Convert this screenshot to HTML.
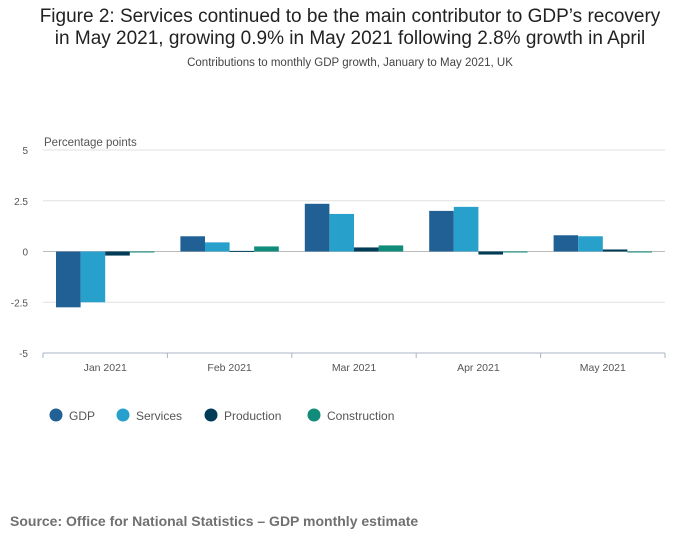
<!DOCTYPE html>
<html><head><meta charset="utf-8">
<style>
body{margin:0;background:#fff;font-family:"Liberation Sans",sans-serif;}
#wrap{position:relative;width:700px;height:549px;overflow:hidden;}
h1{position:absolute;top:6px;left:0;width:700px;margin:0;text-align:center;font-weight:normal;font-size:19px;line-height:22px;color:#222;}
.sub{position:absolute;top:57px;width:700px;text-align:center;font-size:11.5px;color:#444;}
.src{position:absolute;top:513px;left:10px;font-size:14px;font-weight:bold;color:#707070;}
</style></head><body>
<div id="wrap">
<h1>Figure 2: Services continued to be the main contributor to GDP’s recovery<br>in May 2021, growing 0.9% in May 2021 following 2.8% growth in April</h1>
<div class="sub">Contributions to monthly GDP growth, January to May 2021, UK</div>
<svg id="chart" width="700" height="549" style="position:absolute;left:0;top:0"></svg>
<div class="src">Source: Office for National Statistics – GDP monthly estimate</div>
</div>
<script>
const categories=["Jan 2021","Feb 2021","Mar 2021","Apr 2021","May 2021"];
const seriesNames=["GDP","Services","Production","Construction"];
const gdp=[-2.75,0.75,2.35,2.0,0.8];
const services=[-2.5,0.45,1.85,2.2,0.75];
const production=[-0.2,0.03,0.2,-0.15,0.1];
const construction=[-0.05,0.25,0.3,-0.05,-0.05];
const yTicks=[5,2.5,0,-2.5,-5];
const yTickLabels=["5","2.5","0","-2.5","-5"];
const colors=["#206095","#27a0cc","#003c57","#118c7b"];
const series=[gdp,services,production,construction];
const svg=document.getElementById('chart');
const NS="http://www.w3.org/2000/svg";
const x0=43,x1=665,yTop=150,yBot=353;
function y(v){return yTop+(5-v)*(yBot-yTop)/10;}
const gw=(x1-x0)/categories.length;
function mk(t,a){const e=document.createElementNS(NS,t);for(const k in a)e.setAttribute(k,a[k]);svg.appendChild(e);return e;}
yTicks.forEach((t,i)=>{
  const g=mk('line',{x1:x0,x2:x1,y1:y(t),y2:y(t),stroke:t===0?'#bbb':'#e0e0e0','stroke-width':1});
  
  
  const l=mk('text',{x:28,y:y(t)+4,'font-size':10,fill:'#555','text-anchor':'end'});
  l.textContent=yTickLabels[i];
  
  
});
const yt=mk('text',{x:44,y:146,'font-size':11.5,fill:'#555'});yt.textContent="Percentage points";


const ax=mk('line',{x1:x0,x2:x1,y1:yBot,y2:yBot,stroke:'#aab3c6'});


const bw=24.6,pad=13;
categories.forEach((c,i)=>{
  const gx=x0+i*gw;
  const tk=mk('line',{x1:gx,x2:gx,y1:yBot,y2:yBot+5,stroke:'#aab3c6'});
  
  
  const l=mk('text',{x:gx+gw/2,y:371,'font-size':10.5,fill:'#555','text-anchor':'middle'});
  l.textContent=c;
  
  
  series.forEach((s,j)=>{
    const v=s[i];const yy=Math.min(y(v),y(0));const h=Math.max(Math.abs(y(v)-y(0)),1);
    const r=mk('rect',{x:gx+pad+j*bw,y:yy,width:bw,height:h,fill:colors[j]});
    
    
  });
});
const tk=mk('line',{x1:x1,x2:x1,y1:yBot,y2:yBot+5,stroke:'#aab3c6'});
const lx=[56,123,211,314];
seriesNames.forEach((n,j)=>{
  const c=mk('circle',{cx:lx[j],cy:415,r:6.5,fill:colors[j]});
  
  
  const t=mk('text',{x:lx[j]+13,y:420,'font-size':12,fill:'#555'});t.textContent=n;
  
  
});
</script>
</body></html>
